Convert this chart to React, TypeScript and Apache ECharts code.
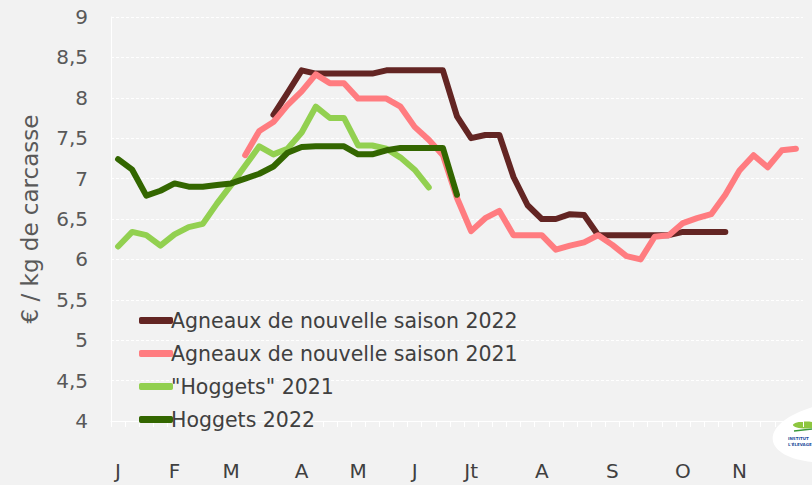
import React, { useEffect, useRef } from "react";
import * as echarts from "echarts";

// 49 weekly categories
const weeks: string[] = Array.from({ length: 49 }, (_, i) => `S${i + 1}`);

// Month labels and the week index where each one is shown
const monthLabels = ["J", "F", "M", "A", "M", "J", "Jt", "A", "S", "O", "N"];
const monthWeekIndex = [0, 4, 8, 13, 17, 21, 25, 30, 35, 40, 44];

const yTicks = [4, 4.5, 5, 5.5, 6, 6.5, 7, 7.5, 8, 8.5, 9];

const N = null;

const agneaux2022: (number | null)[] = [
  N, N, N, N, N, N, N, N, N, N, N,
  7.79, 8.06, 8.34, 8.3, 8.3, 8.3, 8.3, 8.3, 8.34, 8.34, 8.34, 8.34, 8.34,
  7.77, 7.5, 7.54, 7.54, 7.02, 6.67, 6.5, 6.5, 6.56, 6.55, 6.3, 6.3, 6.3,
  6.3, 6.3, 6.3, 6.34, 6.34, 6.34, 6.34,
  N, N, N, N, N,
];

const agneaux2021: (number | null)[] = [
  N, N, N, N, N, N, N, N, N,
  7.29, 7.59, 7.7, 7.91, 8.08, 8.29, 8.18, 8.18, 7.99, 7.99, 7.99, 7.89,
  7.64, 7.48, 7.29, 6.76, 6.35, 6.51, 6.6, 6.3, 6.3, 6.3, 6.12, 6.17, 6.21,
  6.3, 6.18, 6.04, 6.0, 6.28, 6.3, 6.45, 6.51, 6.56, 6.8, 7.1, 7.29, 7.14,
  7.35, 7.37,
];

const hoggets2021: (number | null)[] = [
  6.16, 6.34, 6.3, 6.17, 6.31, 6.4, 6.44, 6.69, 6.92, 7.16, 7.4, 7.3, 7.37,
  7.57, 7.89, 7.75, 7.75, 7.41, 7.41, 7.37, 7.26, 7.11, 6.89,
];

const hoggets2022: (number | null)[] = [
  7.24, 7.11, 6.79, 6.85, 6.94, 6.9, 6.9, 6.92, 6.94, 7.0, 7.06, 7.15, 7.32,
  7.39, 7.4, 7.4, 7.4, 7.3, 7.3, 7.35, 7.38, 7.38, 7.38, 7.38, 6.8,
];

const seriesNames = [
  "Agneaux de nouvelle saison 2022",
  "Agneaux de nouvelle saison 2021",
  "\"Hoggets\" 2021",
  "Hoggets 2022",
];
const seriesColors = ["#632523", "#ff7c80", "#92d050", "#336600"];
const seriesData = [agneaux2022, agneaux2021, hoggets2021, hoggets2022];

const FONT = "DejaVu Sans";

export default function App() {
  const ref = useRef<HTMLDivElement>(null);

  useEffect(() => {
    if (!ref.current) return;
    const chart = echarts.init(ref.current, undefined, { renderer: "svg" });
    chart.setOption({
      animation: false,
      backgroundColor: "#f2f2f2",
      textStyle: { fontFamily: FONT },
      grid: { left: 111, top: 17, right: 9, bottom: 64, containLabel: false },
      legend: {
        orient: "vertical",
        left: 134,
        top: 305,
        itemWidth: 34,
        itemHeight: 7,
        itemGap: 12,
        icon: "roundRect",
        data: seriesNames,
        textStyle: {
          fontFamily: FONT,
          fontSize: 20.5,
          lineHeight: 20,
          color: "#404040",
          padding: [0, 0, 0, -7],
        },
      },
      xAxis: {
        type: "category",
        data: weeks,
        boundaryGap: true,
        axisLine: { show: true, lineStyle: { color: "#ffffff", width: 1 } },
        axisTick: {
          show: true,
          interval: 0,
          length: 6,
          lineStyle: { color: "#ffffff", width: 1 },
        },
        axisLabel: {
          interval: (idx: number) => monthWeekIndex.includes(idx),
          formatter: (_v: string, idx: number) => {
            const k = monthWeekIndex.indexOf(idx);
            return k >= 0 ? monthLabels[k] : "";
          },
          margin: 40,
          fontSize: 20,
          color: "#404040",
          fontFamily: FONT,
        },
        splitLine: { show: false },
      },
      yAxis: {
        type: "value",
        min: yTicks[0],
        max: yTicks[yTicks.length - 1],
        interval: 0.5,
        name: "€ / kg de carcasse",
        nameLocation: "middle",
        nameGap: 70,
        nameRotate: 90,
        nameTextStyle: { fontSize: 23, color: "#595959", fontFamily: FONT },
        axisLine: { show: true, lineStyle: { color: "#ffffff", width: 1 } },
        axisTick: { show: false },
        axisLabel: {
          margin: 23,
          fontSize: 20,
          color: "#595959",
          fontFamily: FONT,
          formatter: (v: number) => String(v).replace(".", ","),
        },
        splitLine: {
          show: true,
          lineStyle: { color: "#ffffff", width: 1, type: [3, 2] },
        },
      },
      series: seriesData.map((d, i) => ({
        name: seriesNames[i],
        type: "line",
        data: d,
        symbol: "none",
        showSymbol: false,
        connectNulls: false,
        color: seriesColors[i],
        lineStyle: {
          color: seriesColors[i],
          width: 6,
          cap: "round",
          join: "round",
        },
        emphasis: { disabled: true },
      })),
      graphic: [
        {
          type: "ellipse",
          shape: { cx: 840, cy: 432, rx: 68, ry: 30 },
          rotation: 0.12,
          originX: 840,
          originY: 432,
          style: { fill: "#ffffff" },
          silent: true,
        },
        {
          type: "ellipse",
          shape: { cx: 806, cy: 425, rx: 13, ry: 3.5 },
          style: { fill: "#8dc63f" },
          silent: true,
        },
        {
          type: "line",
          shape: { x1: 794, y1: 431, x2: 812, y2: 429 },
          style: { stroke: "#3a9a3a", lineWidth: 1.5 },
          silent: true,
        },
        {
          type: "text",
          x: 788,
          y: 436,
          style: {
            text: "INSTITUT",
            fontSize: 4,
            fontWeight: "bold",
            fill: "#1f4e9c",
            fontFamily: FONT,
          },
          silent: true,
        },
        {
          type: "text",
          x: 788,
          y: 442,
          style: {
            text: "L'ÉLEVAGE",
            fontSize: 4,
            fontWeight: "bold",
            fill: "#1f4e9c",
            fontFamily: FONT,
          },
          silent: true,
        },
      ],
    });
    return () => chart.dispose();
  }, []);

  return (
    <div
      ref={ref}
      style={{ position: "fixed", left: 0, top: 0, width: 812, height: 485 }}
    />
  );
}
